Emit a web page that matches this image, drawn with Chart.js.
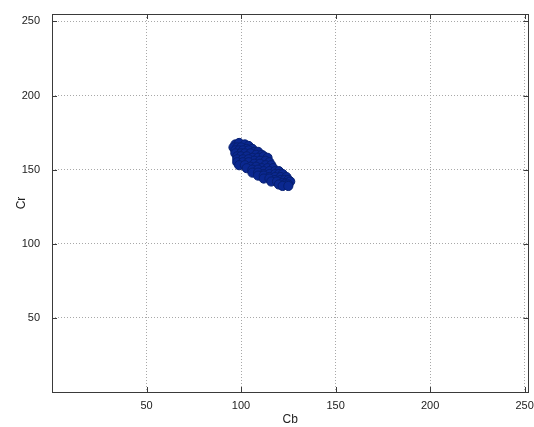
<!DOCTYPE html>
<html>
<head>
<meta charset="utf-8">
<script src="https://cdn.jsdelivr.net/npm/chart.js@4/dist/chart.umd.min.js"></script>
<style>
html,body{margin:0;padding:0;background:#fff;}
#wrap{width:534px;height:427px;position:relative;}
</style>
</head>
<body>
<div id="wrap"><canvas id="c" width="534" height="427"></canvas></div>
<script>
// Data: (Cb, Cr) pairs of skin-pixel samples
const cbValues = [
  97, 99, 102, 104,
  96, 98, 100, 103, 106,
  97, 99, 101, 104, 107, 109,
  97, 100, 102, 105, 108, 111,
  98, 100, 103, 106, 109, 112, 114,
  98, 101, 104, 107, 110, 113, 115,
  98, 101, 104, 107, 110, 113, 116,
  99, 102, 105, 108, 111, 114, 117,
  103, 106, 109, 112, 115, 118, 120,
  106, 109, 112, 115, 118, 120, 122,
  109, 112, 115, 118, 121, 124,
  112, 115, 118, 121, 123, 125,
  116, 119, 122, 124, 126,
  120, 123, 125,
  122, 125
];
const crValues = [
  167, 168, 167, 166,
  165, 165, 165, 164, 164,
  163, 163, 163, 163, 162, 162,
  161, 161, 161, 161, 160, 160,
  159, 159, 159, 158, 158, 159, 158,
  157, 157, 157, 156, 156, 156, 155,
  155, 155, 155, 154, 154, 153, 153,
  153, 153, 152, 152, 151, 151, 151,
  151, 150, 150, 149, 149, 149, 149,
  148, 148, 147, 147, 147, 147, 147,
  146, 146, 145, 145, 145, 145,
  144, 144, 143, 143, 143, 143,
  142, 142, 141, 141, 142,
  140, 140, 140,
  139, 139
];
const tickValues = [50, 100, 150, 200, 250];
const xTitle = 'Cb';
const yTitle = 'Cr';

const points = cbValues.map((x, i) => ({x: x, y: crValues[i]}));

const boxPlugin = {
  id: 'box',
  afterDraw(chart) {
    const {ctx, chartArea: a, scales} = chart;
    ctx.save();
    ctx.strokeStyle = '#3a3a3a';
    ctx.lineWidth = 1;
    ctx.strokeRect(Math.round(a.left) + 0.5, Math.round(a.top) + 0.5,
                   Math.round(a.right - a.left), Math.round(a.bottom - a.top));
    ctx.beginPath();
    tickValues.forEach(v => {
      const px = Math.round(scales.x.getPixelForValue(v)) + 0.5;
      ctx.moveTo(px, a.bottom); ctx.lineTo(px, a.bottom - 5);
      ctx.moveTo(px, a.top); ctx.lineTo(px, a.top + 5);
      const py = Math.round(scales.y.getPixelForValue(v)) + 0.5;
      ctx.moveTo(a.left, py); ctx.lineTo(a.left + 5, py);
      ctx.moveTo(a.right, py); ctx.lineTo(a.right - 5, py);
    });
    ctx.stroke();
    ctx.restore();
  }
};

const font = {family: '"Liberation Sans", Arial, sans-serif', size: 11};

new Chart(document.getElementById('c'), {
  type: 'scatter',
  data: {
    datasets: [{
      data: points,
      backgroundColor: '#0b2890',
      borderColor: '#061f70',
      borderWidth: 1,
      pointRadius: 4.6,
      pointHoverRadius: 4.6
    }]
  },
  options: {
    responsive: false,
    animation: false,
    devicePixelRatio: 1,
    layout: {padding: {top: 14, right: 1, left: 14, bottom: 0}},
    plugins: {legend: {display: false}, tooltip: {enabled: false}},
    scales: {
      x: {
        type: 'linear', min: 0, max: 252,
        afterBuildTicks: s => { s.ticks = tickValues.map(v => ({value: v})); },
        afterFit: s => { s.height = 35; s.paddingLeft = 0; s.paddingRight = 0; },
        grid: {color: '#a8a8a8', lineWidth: 1, drawTicks: false, tickLength: 0},
        border: {display: false, dash: [1, 2]},
        ticks: {font: font, color: '#222', padding: 7, maxRotation: 0},
        title: {display: true, text: xTitle, font: {family: font.family, size: 12}, color: '#222', padding: {top: -4, bottom: 0}}
      },
      y: {
        type: 'linear', min: 0, max: 255,
        afterBuildTicks: s => { s.ticks = tickValues.map(v => ({value: v})); },
        afterFit: s => { s.width = 38; s.paddingTop = 0; s.paddingBottom = 0; },
        grid: {color: '#a8a8a8', lineWidth: 1, drawTicks: false, tickLength: 0},
        border: {display: false, dash: [1, 2]},
        ticks: {font: font, color: '#222', padding: 12},
        title: {display: true, text: yTitle, font: {family: font.family, size: 12}, color: '#222', padding: {top: 0, bottom: 0}}
      }
    }
  },
  plugins: [boxPlugin]
});
</script>
</body>
</html>
